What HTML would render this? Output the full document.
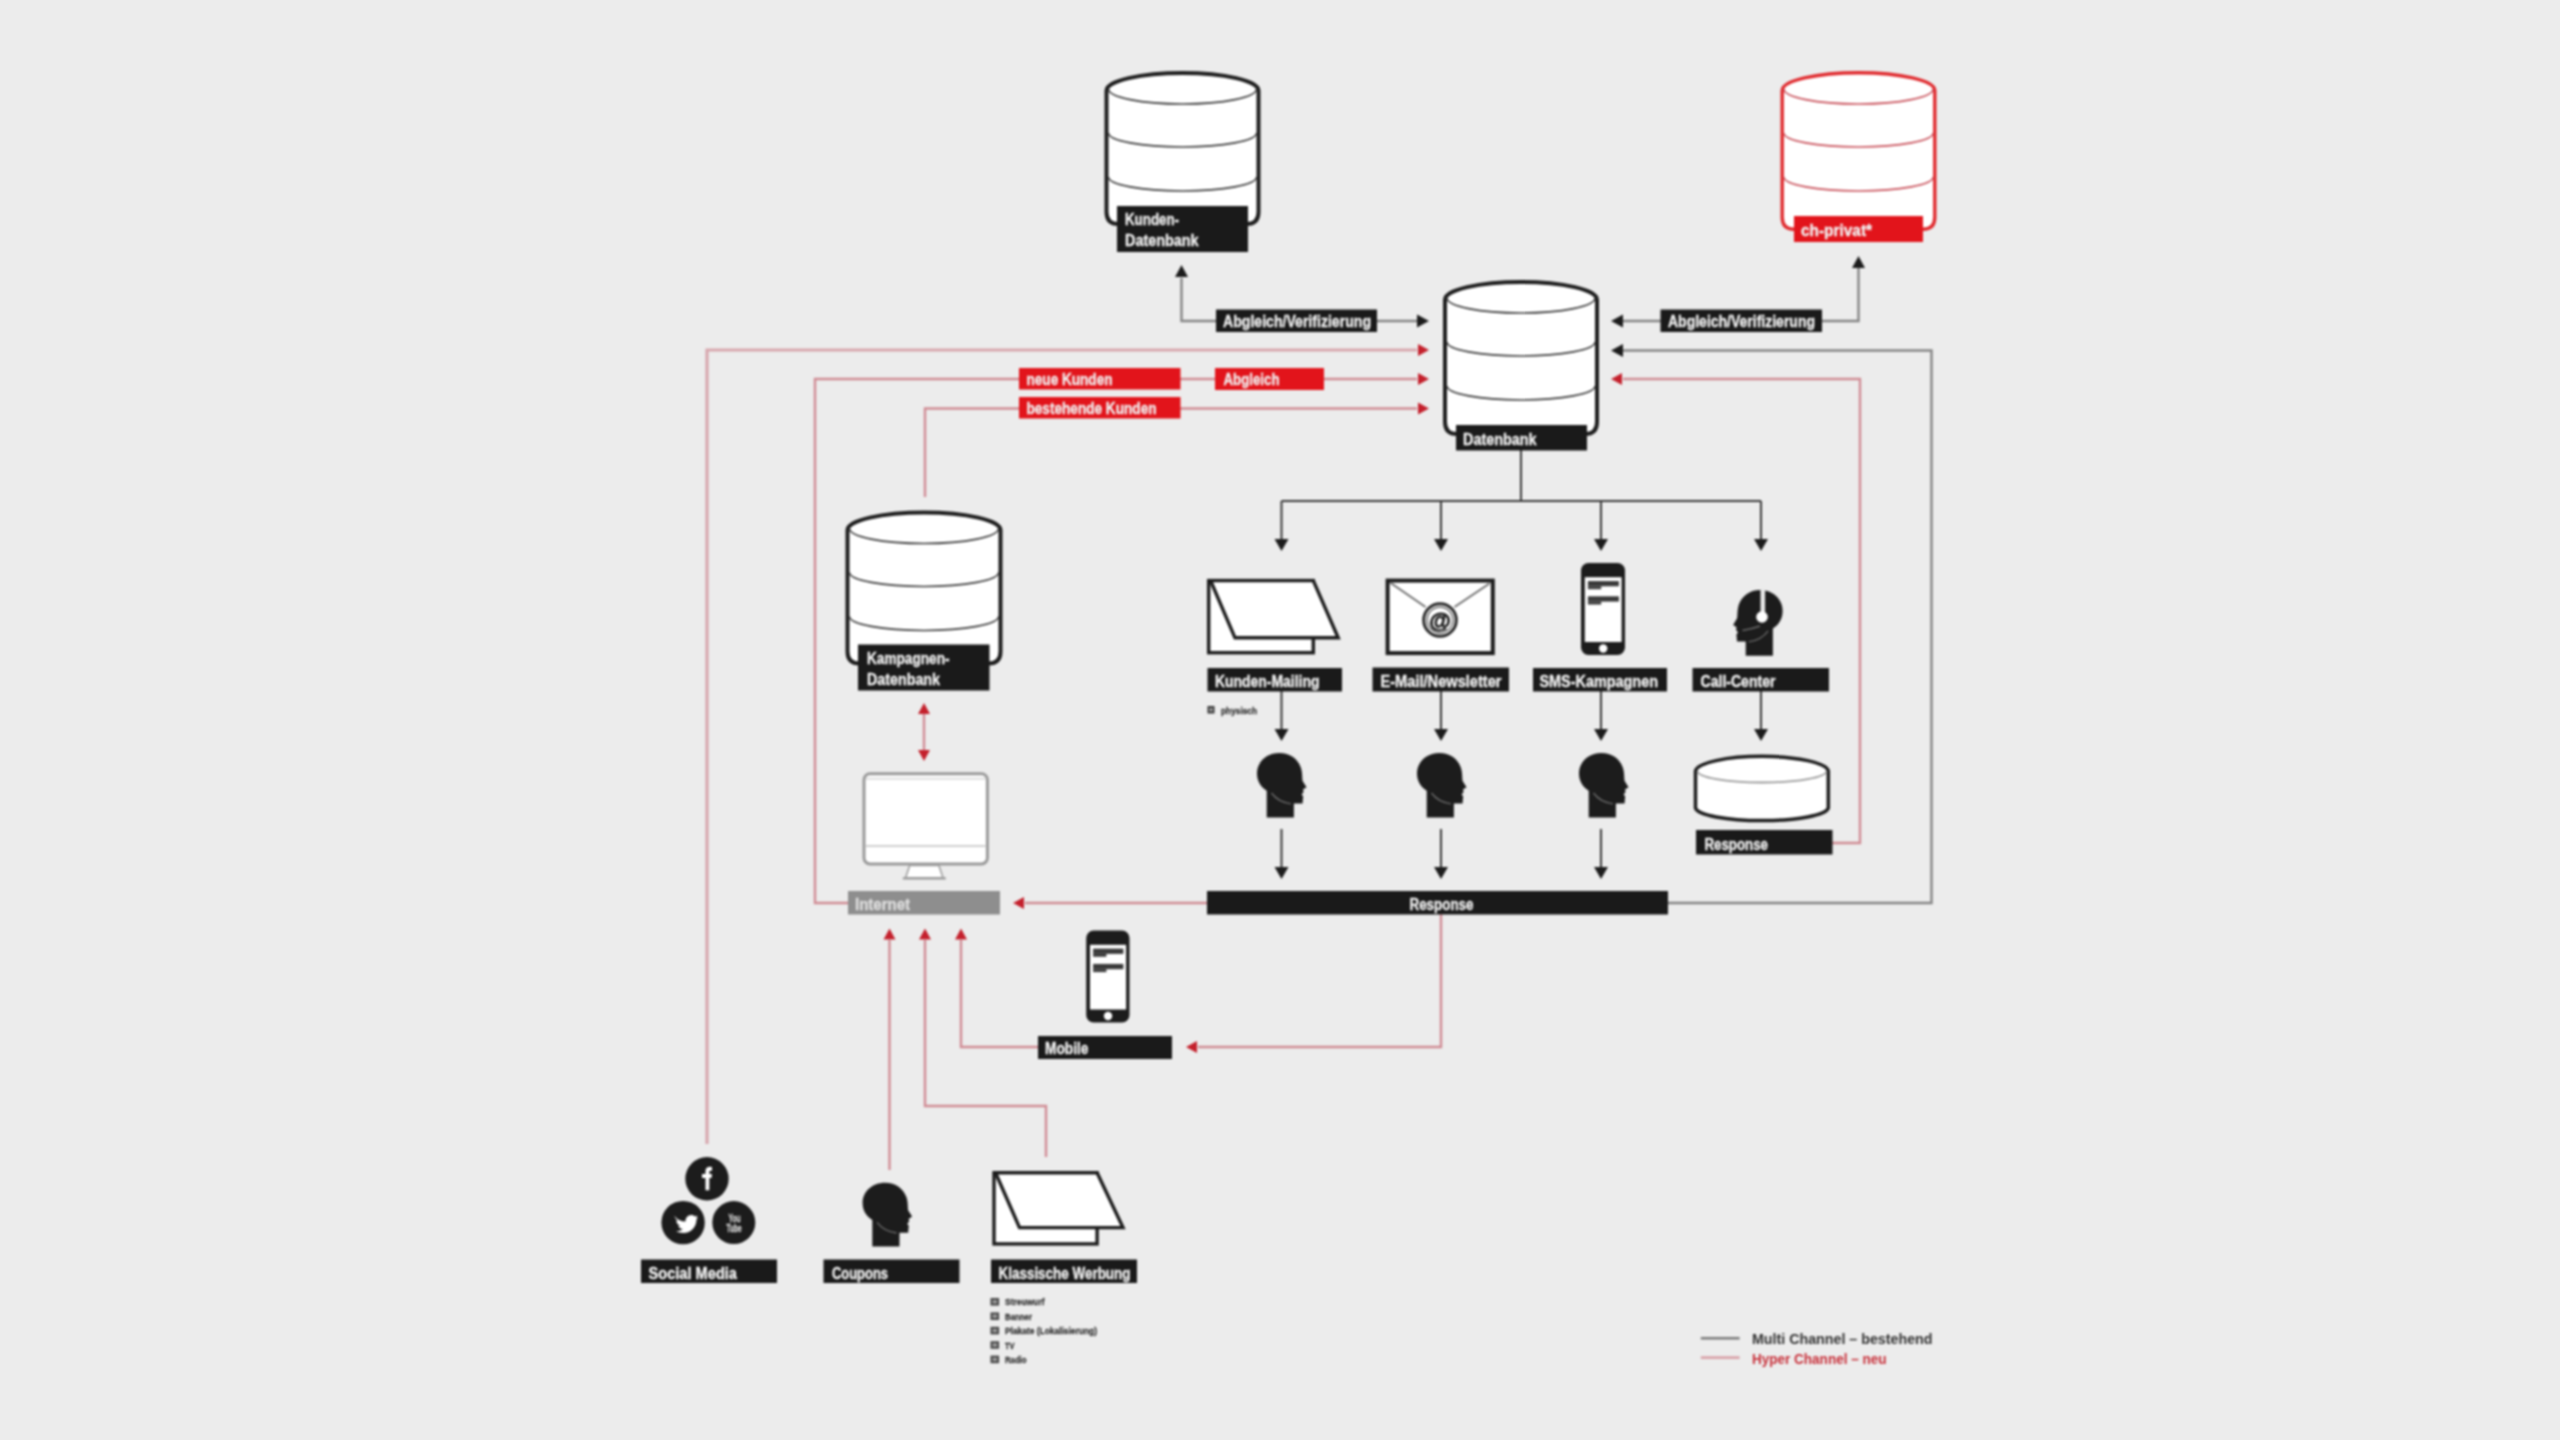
<!DOCTYPE html>
<html><head><meta charset="utf-8"><title>Multi Channel / Hyper Channel</title>
<style>
html,body{margin:0;padding:0;background:#ececec;}
body{width:2560px;height:1440px;overflow:hidden;}
svg{display:block;font-family:"Liberation Sans", sans-serif;filter:blur(0.9px);}
</style></head><body>
<svg width="2560" height="1440" viewBox="0 0 2560 1440">
<rect x="0" y="0" width="2560" height="1440" fill="#ececec"/>
<path d="M1181.5,278 L1181.5,321 L1216,321" fill="none" stroke="#858585" stroke-width="2.4" stroke-linejoin="miter" stroke-linecap="butt"/>
<polygon points="1181.5,265 1175,277 1188,277" fill="#1c1c1c"/>
<path d="M1377,321 L1417,321" fill="none" stroke="#858585" stroke-width="2.4" stroke-linejoin="miter" stroke-linecap="butt"/>
<polygon points="1429,321 1417,314.5 1417,327.5" fill="#1c1c1c"/>
<path d="M1822,321 L1858.5,321 L1858.5,268" fill="none" stroke="#858585" stroke-width="2.4" stroke-linejoin="miter" stroke-linecap="butt"/>
<polygon points="1858.5,256 1852,268 1865,268" fill="#1c1c1c"/>
<path d="M1623,321 L1661,321" fill="none" stroke="#858585" stroke-width="2.4" stroke-linejoin="miter" stroke-linecap="butt"/>
<polygon points="1611,321 1623,314.5 1623,327.5" fill="#1c1c1c"/>
<path d="M1668,903 L1931.5,903 L1931.5,350.5 L1623,350.5" fill="none" stroke="#858585" stroke-width="2.4" stroke-linejoin="miter" stroke-linecap="butt"/>
<polygon points="1611,350.5 1623,344 1623,357" fill="#1c1c1c"/>
<path d="M1521,450 L1521,501" fill="none" stroke="#3a3a3a" stroke-width="2" stroke-linejoin="miter" stroke-linecap="butt"/>
<path d="M1281.5,501 L1761,501" fill="none" stroke="#3a3a3a" stroke-width="2" stroke-linejoin="miter" stroke-linecap="butt"/>
<path d="M1281.5,501 L1281.5,540" fill="none" stroke="#3a3a3a" stroke-width="2" stroke-linejoin="miter" stroke-linecap="butt"/>
<polygon points="1281.5,551 1274.5,539 1288.5,539" fill="#1c1c1c"/>
<path d="M1441,501 L1441,540" fill="none" stroke="#3a3a3a" stroke-width="2" stroke-linejoin="miter" stroke-linecap="butt"/>
<polygon points="1441,551 1434,539 1448,539" fill="#1c1c1c"/>
<path d="M1601,501 L1601,540" fill="none" stroke="#3a3a3a" stroke-width="2" stroke-linejoin="miter" stroke-linecap="butt"/>
<polygon points="1601,551 1594,539 1608,539" fill="#1c1c1c"/>
<path d="M1761,501 L1761,540" fill="none" stroke="#3a3a3a" stroke-width="2" stroke-linejoin="miter" stroke-linecap="butt"/>
<polygon points="1761,551 1754,539 1768,539" fill="#1c1c1c"/>
<path d="M1281.5,691 L1281.5,730" fill="none" stroke="#3a3a3a" stroke-width="2" stroke-linejoin="miter" stroke-linecap="butt"/>
<polygon points="1281.5,741 1274.5,729 1288.5,729" fill="#1c1c1c"/>
<path d="M1441,691 L1441,730" fill="none" stroke="#3a3a3a" stroke-width="2" stroke-linejoin="miter" stroke-linecap="butt"/>
<polygon points="1441,741 1434,729 1448,729" fill="#1c1c1c"/>
<path d="M1601,691 L1601,730" fill="none" stroke="#3a3a3a" stroke-width="2" stroke-linejoin="miter" stroke-linecap="butt"/>
<polygon points="1601,741 1594,729 1608,729" fill="#1c1c1c"/>
<path d="M1761,691 L1761,730" fill="none" stroke="#3a3a3a" stroke-width="2" stroke-linejoin="miter" stroke-linecap="butt"/>
<polygon points="1761,741 1754,729 1768,729" fill="#1c1c1c"/>
<path d="M1281.5,829 L1281.5,868" fill="none" stroke="#3a3a3a" stroke-width="2" stroke-linejoin="miter" stroke-linecap="butt"/>
<polygon points="1281.5,879 1274.5,867 1288.5,867" fill="#1c1c1c"/>
<path d="M1441,829 L1441,868" fill="none" stroke="#3a3a3a" stroke-width="2" stroke-linejoin="miter" stroke-linecap="butt"/>
<polygon points="1441,879 1434,867 1448,867" fill="#1c1c1c"/>
<path d="M1601,829 L1601,868" fill="none" stroke="#3a3a3a" stroke-width="2" stroke-linejoin="miter" stroke-linecap="butt"/>
<polygon points="1601,879 1594,867 1608,867" fill="#1c1c1c"/>
<path d="M707,1144 L707,350 L1417,350" fill="none" stroke="#d8a7ae" stroke-width="3.2" stroke-linejoin="miter" stroke-linecap="butt"/>
<polygon points="1429,350 1418,344 1418,356" fill="#c4202c"/>
<path d="M848,903 L815,903 L815,379 L1417,379" fill="none" stroke="#d08c94" stroke-width="2.4" stroke-linejoin="miter" stroke-linecap="butt"/>
<polygon points="1429,379 1418,373 1418,385" fill="#c4202c"/>
<path d="M925,497 L925,408.5 L1417,408.5" fill="none" stroke="#d08c94" stroke-width="2.4" stroke-linejoin="miter" stroke-linecap="butt"/>
<polygon points="1429,408.5 1418,402.5 1418,414.5" fill="#c4202c"/>
<path d="M1832,843 L1860,843 L1860,379 L1623,379" fill="none" stroke="#d08c94" stroke-width="2.4" stroke-linejoin="miter" stroke-linecap="butt"/>
<polygon points="1611,379 1622,373 1622,385" fill="#c4202c"/>
<path d="M924,714 L924,750" fill="none" stroke="#d08c94" stroke-width="2.4" stroke-linejoin="miter" stroke-linecap="butt"/>
<polygon points="924,703 918,714 930,714" fill="#c4202c"/>
<polygon points="924,761 918,750 930,750" fill="#c4202c"/>
<path d="M1207,903 L1025,903" fill="none" stroke="#d08c94" stroke-width="2.4" stroke-linejoin="miter" stroke-linecap="butt"/>
<polygon points="1013,903 1024,897 1024,909" fill="#c4202c"/>
<path d="M1441,914 L1441,1047 L1198,1047" fill="none" stroke="#d08c94" stroke-width="2.4" stroke-linejoin="miter" stroke-linecap="butt"/>
<polygon points="1186,1047 1197,1041 1197,1053" fill="#c4202c"/>
<path d="M1038,1047 L961,1047 L961,940" fill="none" stroke="#d08c94" stroke-width="2.4" stroke-linejoin="miter" stroke-linecap="butt"/>
<polygon points="961,928.5 955,939.5 967,939.5" fill="#c4202c"/>
<path d="M889.5,1170 L889.5,940" fill="none" stroke="#d08c94" stroke-width="2.4" stroke-linejoin="miter" stroke-linecap="butt"/>
<polygon points="889.5,928.5 883.5,939.5 895.5,939.5" fill="#c4202c"/>
<path d="M1046,1157 L1046,1106 L925,1106 L925,940" fill="none" stroke="#d08c94" stroke-width="2.4" stroke-linejoin="miter" stroke-linecap="butt"/>
<polygon points="925,928.5 919,939.5 931,939.5" fill="#c4202c"/>
<path d="M1106.5,90.5 A76,17.5 0 0 1 1258.5,90.5 L1258.5,212 Q1258.5,224 1246.5,224 L1118.5,224 Q1106.5,224 1106.5,212 Z" fill="#ffffff" stroke="#1e1e1e" stroke-width="4"/>
<path d="M1108.5,89 A74,15 0 0 0 1256.5,89" fill="none" stroke="#3c3c3c" stroke-width="1.6"/>
<path d="M1108.5,133 A74,14 0 0 0 1256.5,133" fill="none" stroke="#3c3c3c" stroke-width="1.6"/>
<path d="M1108.5,177 A74,14 0 0 0 1256.5,177" fill="none" stroke="#3c3c3c" stroke-width="1.6"/>
<rect x="1117" y="206" width="131" height="46" fill="#1a1a1a"/>
<text x="1125" y="225" font-size="16" font-weight="bold" fill="#f2f2f2" stroke="#f2f2f2" stroke-width="0.35" textLength="54" lengthAdjust="spacingAndGlyphs">Kunden-</text>
<text x="1125" y="245.5" font-size="16" font-weight="bold" fill="#f2f2f2" stroke="#f2f2f2" stroke-width="0.35" textLength="73.5" lengthAdjust="spacingAndGlyphs">Datenbank</text>
<path d="M1782.2,90.5 A76.3,17.8 0 0 1 1934.8,90.5 L1934.8,217.3 Q1934.8,229.3 1922.8,229.3 L1794.2,229.3 Q1782.2,229.3 1782.2,217.3 Z" fill="#ffffff" stroke="#e02a2e" stroke-width="3.4"/>
<path d="M1783.9,89 A74.6,15 0 0 0 1933.1,89" fill="none" stroke="#c8505a" stroke-width="1.6"/>
<path d="M1783.9,133 A74.6,14 0 0 0 1933.1,133" fill="none" stroke="#c8505a" stroke-width="1.6"/>
<path d="M1783.9,177 A74.6,14 0 0 0 1933.1,177" fill="none" stroke="#c8505a" stroke-width="1.6"/>
<rect x="1794" y="216" width="129" height="26" fill="#e2141b"/>
<text x="1801" y="236" font-size="16" font-weight="bold" fill="#f2f2f2" stroke="#f2f2f2" stroke-width="0.35" textLength="71" lengthAdjust="spacingAndGlyphs">ch-privat*</text>
<path d="M1445,299.5 A76,17.5 0 0 1 1597,299.5 L1597,422 Q1597,434 1585,434 L1457,434 Q1445,434 1445,422 Z" fill="#ffffff" stroke="#1e1e1e" stroke-width="4"/>
<path d="M1447,298 A74,15 0 0 0 1595,298" fill="none" stroke="#3c3c3c" stroke-width="1.6"/>
<path d="M1447,342 A74,14 0 0 0 1595,342" fill="none" stroke="#3c3c3c" stroke-width="1.6"/>
<path d="M1447,386 A74,14 0 0 0 1595,386" fill="none" stroke="#3c3c3c" stroke-width="1.6"/>
<rect x="1456" y="425" width="131" height="25.5" fill="#1a1a1a"/>
<text x="1463" y="444.5" font-size="16" font-weight="bold" fill="#f2f2f2" stroke="#f2f2f2" stroke-width="0.35" textLength="73.5" lengthAdjust="spacingAndGlyphs">Datenbank</text>
<path d="M847.5,530 A76.5,17.5 0 0 1 1000.5,530 L1000.5,651.5 Q1000.5,663.5 988.5,663.5 L859.5,663.5 Q847.5,663.5 847.5,651.5 Z" fill="#ffffff" stroke="#1e1e1e" stroke-width="4"/>
<path d="M849.5,528.5 A74.5,15 0 0 0 998.5,528.5" fill="none" stroke="#3c3c3c" stroke-width="1.6"/>
<path d="M849.5,572.5 A74.5,14 0 0 0 998.5,572.5" fill="none" stroke="#3c3c3c" stroke-width="1.6"/>
<path d="M849.5,616.5 A74.5,14 0 0 0 998.5,616.5" fill="none" stroke="#3c3c3c" stroke-width="1.6"/>
<rect x="858" y="644.5" width="131.5" height="46" fill="#1a1a1a"/>
<text x="867" y="664" font-size="16" font-weight="bold" fill="#f2f2f2" stroke="#f2f2f2" stroke-width="0.35" textLength="82.5" lengthAdjust="spacingAndGlyphs">Kampagnen-</text>
<text x="867" y="684.5" font-size="16" font-weight="bold" fill="#f2f2f2" stroke="#f2f2f2" stroke-width="0.35" textLength="73" lengthAdjust="spacingAndGlyphs">Datenbank</text>
<rect x="1216" y="309.5" width="161" height="22.5" fill="#1a1a1a"/>
<text x="1223" y="326.5" font-size="16" font-weight="bold" fill="#f2f2f2" stroke="#f2f2f2" stroke-width="0.35" textLength="148" lengthAdjust="spacingAndGlyphs">Abgleich/Verifizierung</text>
<rect x="1660.5" y="309.5" width="161.5" height="22.5" fill="#1a1a1a"/>
<text x="1668" y="326.5" font-size="16" font-weight="bold" fill="#f2f2f2" stroke="#f2f2f2" stroke-width="0.35" textLength="147" lengthAdjust="spacingAndGlyphs">Abgleich/Verifizierung</text>
<rect x="1019" y="368" width="161.5" height="21.5" fill="#e2141b"/>
<text x="1026.5" y="385" font-size="16" font-weight="bold" fill="#f2f2f2" stroke="#f2f2f2" stroke-width="0.35" textLength="86" lengthAdjust="spacingAndGlyphs">neue Kunden</text>
<rect x="1215" y="368" width="109" height="22" fill="#e2141b"/>
<text x="1223.5" y="385" font-size="16" font-weight="bold" fill="#f2f2f2" stroke="#f2f2f2" stroke-width="0.35" textLength="56" lengthAdjust="spacingAndGlyphs">Abgleich</text>
<rect x="1019" y="397" width="161.5" height="21.5" fill="#e2141b"/>
<text x="1026.5" y="414" font-size="16" font-weight="bold" fill="#f2f2f2" stroke="#f2f2f2" stroke-width="0.35" textLength="130" lengthAdjust="spacingAndGlyphs">bestehende Kunden</text>
<rect x="1207.5" y="668" width="134.5" height="23.5" fill="#1a1a1a"/>
<text x="1215" y="686.5" font-size="16" font-weight="bold" fill="#f2f2f2" stroke="#f2f2f2" stroke-width="0.35" textLength="104.5" lengthAdjust="spacingAndGlyphs">Kunden-Mailing</text>
<rect x="1372.5" y="667.5" width="136.5" height="24" fill="#1a1a1a"/>
<text x="1380.5" y="686.5" font-size="16" font-weight="bold" fill="#f2f2f2" stroke="#f2f2f2" stroke-width="0.35" textLength="121" lengthAdjust="spacingAndGlyphs">E-Mail/Newsletter</text>
<rect x="1533" y="668" width="134" height="23.5" fill="#1a1a1a"/>
<text x="1539.5" y="686.5" font-size="16" font-weight="bold" fill="#f2f2f2" stroke="#f2f2f2" stroke-width="0.35" textLength="118.5" lengthAdjust="spacingAndGlyphs">SMS-Kampagnen</text>
<rect x="1692.5" y="668" width="136.5" height="23.5" fill="#1a1a1a"/>
<text x="1700.5" y="686.5" font-size="16" font-weight="bold" fill="#f2f2f2" stroke="#f2f2f2" stroke-width="0.35" textLength="75" lengthAdjust="spacingAndGlyphs">Call-Center</text>
<rect x="1696" y="830" width="136.5" height="24.5" fill="#1a1a1a"/>
<text x="1704.5" y="849.5" font-size="16" font-weight="bold" fill="#f2f2f2" stroke="#f2f2f2" stroke-width="0.35" textLength="63.5" lengthAdjust="spacingAndGlyphs">Response</text>
<rect x="1207" y="891" width="461" height="23.5" fill="#1a1a1a"/>
<text x="1409.5" y="909.5" font-size="16" font-weight="bold" fill="#f2f2f2" stroke="#f2f2f2" stroke-width="0.35" textLength="64" lengthAdjust="spacingAndGlyphs">Response</text>
<rect x="848" y="891" width="152" height="23.5" fill="#8e8e8e"/>
<text x="855" y="909.5" font-size="16" font-weight="bold" fill="#dedede" stroke="#dedede" stroke-width="0.35" textLength="55" lengthAdjust="spacingAndGlyphs">Internet</text>
<rect x="1038" y="1036" width="134" height="23" fill="#1a1a1a"/>
<text x="1045" y="1054" font-size="16" font-weight="bold" fill="#f2f2f2" stroke="#f2f2f2" stroke-width="0.35" textLength="43.5" lengthAdjust="spacingAndGlyphs">Mobile</text>
<rect x="641" y="1259.5" width="136" height="23.5" fill="#1a1a1a"/>
<text x="648.5" y="1278.5" font-size="16" font-weight="bold" fill="#f2f2f2" stroke="#f2f2f2" stroke-width="0.35" textLength="88.5" lengthAdjust="spacingAndGlyphs">Social Media</text>
<rect x="823.5" y="1259.5" width="136" height="23.5" fill="#1a1a1a"/>
<text x="832" y="1278.5" font-size="16" font-weight="bold" fill="#f2f2f2" stroke="#f2f2f2" stroke-width="0.35" textLength="56" lengthAdjust="spacingAndGlyphs">Coupons</text>
<rect x="991" y="1259.5" width="146" height="23.5" fill="#1a1a1a"/>
<text x="998.5" y="1278.5" font-size="16" font-weight="bold" fill="#f2f2f2" stroke="#f2f2f2" stroke-width="0.35" textLength="132" lengthAdjust="spacingAndGlyphs">Klassische Werbung</text>
<rect x="1208.7" y="580.6" width="104.6" height="72.1" fill="#fff" stroke="#1c1c1c" stroke-width="3.4"/>
<polygon points="1210.6,580.6 1313.3,580.6 1338.2,637.8 1235,637.8" fill="#fff" stroke="#1c1c1c" stroke-width="3.4" stroke-linejoin="miter"/>
<rect x="1207.5" y="706" width="7" height="7.5" fill="#3a3a3a"/><rect x="1209.3" y="708" width="3.4" height="3.5" fill="#999"/>
<text x="1221" y="713.5" font-size="9" font-weight="bold" fill="#333" stroke="#333" stroke-width="0.3" textLength="36" lengthAdjust="spacingAndGlyphs">physisch</text>
<rect x="1387.6" y="580.6" width="105.2" height="72.5" fill="#fff" stroke="#1c1c1c" stroke-width="4"/>
<path d="M1390,582.5 L1425.5,607 M1489.5,583.5 L1454.5,607" stroke="#707070" stroke-width="2" fill="none"/>
<circle cx="1440" cy="620" r="16.3" fill="#fff" stroke="#2a2a2a" stroke-width="3"/>
<circle cx="1440" cy="620" r="12.8" fill="none" stroke="#555" stroke-width="1.2"/>
<text x="1440" y="627.8" font-size="22" font-weight="bold" fill="#1e1e1e" stroke="#1e1e1e" stroke-width="0.9" text-anchor="middle">@</text>
<rect x="1581" y="563" width="44" height="92" rx="7.5" ry="7.5" fill="#1c1c1c"/>
<rect x="1584.8" y="577.2" width="36.8" height="64.8" fill="#ffffff"/>
<rect x="1587.9" y="581" width="31" height="5.3" fill="#3a3a3a"/>
<rect x="1587.9" y="586.3" width="13.3" height="2.9" fill="#3a3a3a"/>
<rect x="1587.9" y="596.3" width="31" height="5.3" fill="#3a3a3a"/>
<rect x="1587.9" y="601.6" width="13.3" height="2.9" fill="#3a3a3a"/>
<circle cx="1603.2" cy="648.5" r="4.2" fill="#ffffff"/>
<g transform="translate(1782.6,590) scale(-1,1.02)"><path d="M9.7,64.5 L9.7,37.7 C3,33.5 0,27.5 0,20.6 C0,8.5 10,0 22.4,0 C33,0 41,6 44,15 C45.5,20 45,24 45.5,27.8 L49.5,34.2 L46,36.6 L46.6,39 L44.6,41.6 L46.2,43.6 C46,46 45.6,48.5 45.6,50.6 L36.9,50.6 L36.9,64.5 Z" fill="#1c1c1c"/><path d="M14.5,40 Q21,49 34,50.8" fill="none" stroke="#6a6a6a" stroke-width="1.3"/></g>
<rect x="1760.5" y="589" width="4.6" height="24" fill="#e8e8e8"/>
<circle cx="1762" cy="617" r="5.8" fill="#ffffff"/>
<path d="M1760,626 Q1752,629 1742.5,630.5" stroke="#6a6a6a" stroke-width="1.6" fill="none"/>
<g transform="translate(1257,753) scale(1,1)"><path d="M9.7,64.5 L9.7,37.7 C3,33.5 0,27.5 0,20.6 C0,8.5 10,0 22.4,0 C33,0 41,6 44,15 C45.5,20 45,24 45.5,27.8 L49.5,34.2 L46,36.6 L46.6,39 L44.6,41.6 L46.2,43.6 C46,46 45.6,48.5 45.6,50.6 L36.9,50.6 L36.9,64.5 Z" fill="#1c1c1c"/><path d="M14.5,40 Q21,49 34,50.8" fill="none" stroke="#6a6a6a" stroke-width="1.3"/></g>
<g transform="translate(1417,753) scale(1,1)"><path d="M9.7,64.5 L9.7,37.7 C3,33.5 0,27.5 0,20.6 C0,8.5 10,0 22.4,0 C33,0 41,6 44,15 C45.5,20 45,24 45.5,27.8 L49.5,34.2 L46,36.6 L46.6,39 L44.6,41.6 L46.2,43.6 C46,46 45.6,48.5 45.6,50.6 L36.9,50.6 L36.9,64.5 Z" fill="#1c1c1c"/><path d="M14.5,40 Q21,49 34,50.8" fill="none" stroke="#6a6a6a" stroke-width="1.3"/></g>
<g transform="translate(1579,753) scale(1,1)"><path d="M9.7,64.5 L9.7,37.7 C3,33.5 0,27.5 0,20.6 C0,8.5 10,0 22.4,0 C33,0 41,6 44,15 C45.5,20 45,24 45.5,27.8 L49.5,34.2 L46,36.6 L46.6,39 L44.6,41.6 L46.2,43.6 C46,46 45.6,48.5 45.6,50.6 L36.9,50.6 L36.9,64.5 Z" fill="#1c1c1c"/><path d="M14.5,40 Q21,49 34,50.8" fill="none" stroke="#6a6a6a" stroke-width="1.3"/></g>
<path d="M1695.5,771 A66.5,15.5 0 0 1 1828.3,771 L1828.3,808 A66.5,13.3 0 0 1 1695.5,808 Z" fill="#fff" stroke="#1c1c1c" stroke-width="3.5"/>
<path d="M1697.5,771 A64.5,11.5 0 0 0 1826.5,771" fill="none" stroke="#9a9a9a" stroke-width="1.8"/>
<rect x="864" y="773.7" width="123.4" height="90.2" rx="6" ry="6" fill="#fff" stroke="#9a9a9a" stroke-width="3"/>
<line x1="866" y1="846" x2="985.5" y2="846" stroke="#cfcfcf" stroke-width="2"/>
<line x1="866" y1="778.8" x2="985.5" y2="778.8" stroke="#dedede" stroke-width="2"/>
<polygon points="909.7,865.4 938.9,865.4 943,877.8 905.6,877.8" fill="#fff" stroke="#a0a0a0" stroke-width="1.6"/>
<line x1="902.8" y1="878.4" x2="945.8" y2="878.4" stroke="#9a9a9a" stroke-width="2.2"/>
<rect x="1086.2" y="930.6" width="43.3" height="91.9" rx="7.5" ry="7.5" fill="#1c1c1c"/>
<rect x="1090" y="944.8" width="36.1" height="64.7" fill="#ffffff"/>
<rect x="1093.1" y="948.6" width="30.3" height="5.3" fill="#3a3a3a"/>
<rect x="1093.1" y="953.9" width="13.3" height="2.9" fill="#3a3a3a"/>
<rect x="1093.1" y="963.9" width="30.3" height="5.3" fill="#3a3a3a"/>
<rect x="1093.1" y="969.2" width="13.3" height="2.9" fill="#3a3a3a"/>
<circle cx="1108.05" cy="1016" r="4.2" fill="#ffffff"/>
<circle cx="707" cy="1178.8" r="21.7" fill="#1c1c1c"/>
<circle cx="683.1" cy="1222.6" r="21.7" fill="#1c1c1c"/>
<circle cx="733.8" cy="1222.6" r="21.5" fill="#1c1c1c"/>
<path d="M705.5,1190.3 L705.5,1178 L702,1178 L702,1174 L705.5,1174 L705.5,1171 C705.5,1168 707.5,1166.8 710,1166.8 L712,1167 L712,1170.8 L710.5,1170.8 C709.5,1170.8 709.3,1171.3 709.3,1172 L709.3,1174 L712,1174 L711.5,1178 L709.3,1178 L709.3,1190.3 Z" fill="#fff"/>
<path d="M674.2,1215.5 C677,1219.5 681,1221.5 685.5,1221.5 C685.2,1217.5 688.5,1214.5 692,1215 C693.5,1215.2 694.5,1216 695,1216.5 L697.5,1215.5 L696.3,1218 L698,1217.6 L696.5,1219.5 C696.5,1227 691,1233 683.5,1233 C680.5,1233 678,1232.2 676,1231 C678.5,1231.2 681,1230.5 682.8,1229 C680.5,1229 678.8,1227.5 678.2,1225.8 L680.5,1225.6 C678,1225 676.3,1223 676.2,1220.5 L678.2,1221.2 C675.8,1219.5 675,1217.5 674.2,1215.5 Z" fill="#fff"/>
<text x="734.5" y="1221.5" font-size="10" font-weight="bold" fill="#d0d0d0" stroke="#d0d0d0" stroke-width="0.4" text-anchor="middle" textLength="12" lengthAdjust="spacingAndGlyphs">You</text>
<text x="734" y="1231.5" font-size="10" font-weight="bold" fill="#d0d0d0" stroke="#d0d0d0" stroke-width="0.4" text-anchor="middle" textLength="15" lengthAdjust="spacingAndGlyphs">Tube</text>
<g transform="translate(862.6,1182.7) scale(1,0.99)"><path d="M9.7,64.5 L9.7,37.7 C3,33.5 0,27.5 0,20.6 C0,8.5 10,0 22.4,0 C33,0 41,6 44,15 C45.5,20 45,24 45.5,27.8 L49.5,34.2 L46,36.6 L46.6,39 L44.6,41.6 L46.2,43.6 C46,46 45.6,48.5 45.6,50.6 L36.9,50.6 L36.9,64.5 Z" fill="#1c1c1c"/><path d="M14.5,40 Q21,49 34,50.8" fill="none" stroke="#6a6a6a" stroke-width="1.3"/></g>
<rect x="994" y="1172.8" width="103.1" height="71.1" fill="#fff" stroke="#1c1c1c" stroke-width="3.4"/>
<polygon points="995.5,1172.8 1097.1,1172.8 1123,1227.6 1019.5,1227.6" fill="#fff" stroke="#1c1c1c" stroke-width="3.4" stroke-linejoin="miter"/>
<rect x="990.5" y="1298" width="8.6" height="7.6" fill="#4a4a4a"/>
<rect x="992.6" y="1300.1" width="4.4" height="3.4" fill="#9a9a9a"/>
<text x="1005" y="1305.4" font-size="9.5" font-weight="bold" fill="#333" stroke="#333" stroke-width="0.3" textLength="39.5" lengthAdjust="spacingAndGlyphs">Streuwurf</text>
<rect x="990.5" y="1312.4" width="8.6" height="7.6" fill="#4a4a4a"/>
<rect x="992.6" y="1314.5" width="4.4" height="3.4" fill="#9a9a9a"/>
<text x="1005" y="1319.8" font-size="9.5" font-weight="bold" fill="#333" stroke="#333" stroke-width="0.3" textLength="27" lengthAdjust="spacingAndGlyphs">Banner</text>
<rect x="990.5" y="1326.8" width="8.6" height="7.6" fill="#4a4a4a"/>
<rect x="992.6" y="1328.9" width="4.4" height="3.4" fill="#9a9a9a"/>
<text x="1005" y="1334.2" font-size="9.5" font-weight="bold" fill="#333" stroke="#333" stroke-width="0.3" textLength="92" lengthAdjust="spacingAndGlyphs">Plakate (Lokalisierung)</text>
<rect x="990.5" y="1341.2" width="8.6" height="7.6" fill="#4a4a4a"/>
<rect x="992.6" y="1343.3" width="4.4" height="3.4" fill="#9a9a9a"/>
<text x="1005" y="1348.6" font-size="9.5" font-weight="bold" fill="#333" stroke="#333" stroke-width="0.3" textLength="9.5" lengthAdjust="spacingAndGlyphs">TV</text>
<rect x="990.5" y="1355.6" width="8.6" height="7.6" fill="#4a4a4a"/>
<rect x="992.6" y="1357.7" width="4.4" height="3.4" fill="#9a9a9a"/>
<text x="1005" y="1363" font-size="9.5" font-weight="bold" fill="#333" stroke="#333" stroke-width="0.3" textLength="21.5" lengthAdjust="spacingAndGlyphs">Radio</text>
<line x1="1700.8" y1="1338.2" x2="1739.6" y2="1338.2" stroke="#7a7a7a" stroke-width="2.6"/>
<line x1="1700.8" y1="1357.6" x2="1739.6" y2="1357.6" stroke="#d9a3aa" stroke-width="2.6"/>
<text x="1752" y="1344" font-size="14" font-weight="bold" fill="#333" textLength="180.5" lengthAdjust="spacingAndGlyphs">Multi Channel – bestehend</text>
<text x="1752" y="1363.5" font-size="14" font-weight="bold" fill="#c8303a" textLength="134.5" lengthAdjust="spacingAndGlyphs">Hyper Channel – neu</text>
</svg>
</body></html>
